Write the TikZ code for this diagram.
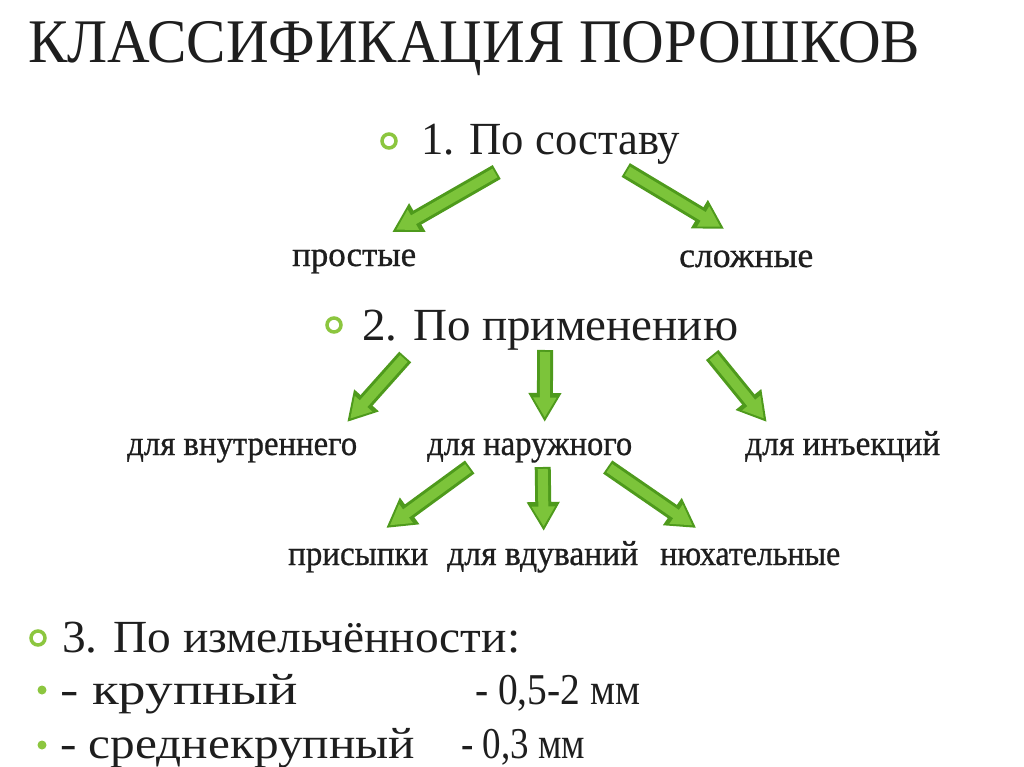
\documentclass[tikz,border=0pt]{standalone}
\usepackage{fontspec}
\setmainfont{Liberation Serif}
\usepackage{graphicx}
\usetikzlibrary{arrows.meta,calc}
\definecolor{gdark}{HTML}{4E9A1C}
\definecolor{glight}{HTML}{7CC43A}
\definecolor{gbul}{HTML}{8CC63F}
\definecolor{txt}{HTML}{1E1E1E}
\newcommand\fw[2]{\resizebox{#1}{\height}{#2}}
\newcommand\garr[2]{%
  \draw[gout] #1 -- #2;
  \draw[gin] #1 -- #2;}
\tikzset{
  lbl/.style={anchor=base west,inner sep=0pt,text=txt},
  sml/.style={lbl,font=\fontsize{35}{35}\selectfont\addfontfeature{FakeBold=0.8}},
  head/.style={lbl,font=\fontsize{46}{46}\selectfont},
  lst/.style={lbl,font=\fontsize{44}{44}\selectfont},
  ring/.style={circle,draw=gbul,line width=3.5pt,minimum size=14pt,inner sep=0pt},
  dot/.style={circle,fill=gbul,minimum size=9pt,inner sep=0pt},
  gout/.style={draw=gdark,line width=16pt,-{Triangle[width=31pt,length=29pt]}},
  gin/.style={draw=glight,line width=10pt,-{Triangle[width=22pt,length=20pt]},shorten >=4.5pt,shorten <=2pt},
}
\begin{document}
\begin{tikzpicture}[x=1pt,y=-1pt]
\path[use as bounding box,fill=white] (0,0) rectangle (1024,767);
% title
\node[lbl,font=\fontsize{62}{62}\selectfont] (title) at (28,63) {\fw{892pt}{КЛАССИФИКАЦИЯ ПОРОШКОВ}};
% headings
\node[ring] (b1) at (389,141) {};
\node[head] (sost) at (421,155) {\fw{259pt}{1. По составу}};
\node[ring] (b2) at (334,325) {};
\node[head] (prim) at (362,340) {\fw{376pt}{2. По применению}};
\node[ring] (b3) at (38,638) {};
\node[head] (izm) at (62,652) {\fw{458pt}{3. По измельчённости:}};
% level labels
\node[sml] (prost) at (292,266) {\fw{124pt}{простые}};
\node[sml] (slozh) at (679,267) {\fw{134pt}{сложные}};
\node[sml] (vnutr) at (127,455) {\fw{230pt}{для внутреннего}};
\node[sml] (naruzh) at (427,455) {\fw{205pt}{для наружного}};
\node[sml] (inj) at (745,455) {\fw{195pt}{для инъекций}};
\node[sml] (prisyp) at (288,565) {\fw{140pt}{присыпки}};
\node[sml] (vduv) at (447,565) {\fw{191pt}{для вдуваний}};
\node[sml] (nyuh) at (660,565) {\fw{180pt}{нюхательные}};
% size list
\node[dot] (d1) at (42,690) {};
\node[lst] (krup) at (60,704) {\fw{238pt}{- крупный}};
\node[lst] (r1) at (475,704) {\fw{165pt}{- 0,5-2 мм}};
\node[dot] (d2) at (42,745) {};
\node[lst] (sred) at (60,758) {\fw{355pt}{- среднекрупный}};
\node[lst] (r2) at (461,758) {\fw{124pt}{- 0,3 мм}};
% arrows
\garr{($(sost.base)+(-54,17)$)}{($(prost.base)+(38,-34)$)}
\garr{($(sost.base)+(75,15)$)}{($(slozh.base)+(-22,-38)$)}
\garr{($(prim.base)+(-145,17)$)}{($(vnutr.base)+(105,-33)$)}
\garr{($(prim.base)+(-5,10)$)}{($(naruzh.base)+(15,-33)$)}
\garr{($(prim.base)+(162,15)$)}{($(inj.base)+(-76,-33)$)}
\garr{($(naruzh.base)+(-60,12)$)}{($(prisyp.base)+(28,-37)$)}
\garr{($(naruzh.base)+(13,12)$)}{($(vduv.base)+(1,-34)$)}
\garr{($(naruzh.base)+(78,12)$)}{($(nyuh.base)+(-54,-37)$)}
\end{tikzpicture}
\end{document}
